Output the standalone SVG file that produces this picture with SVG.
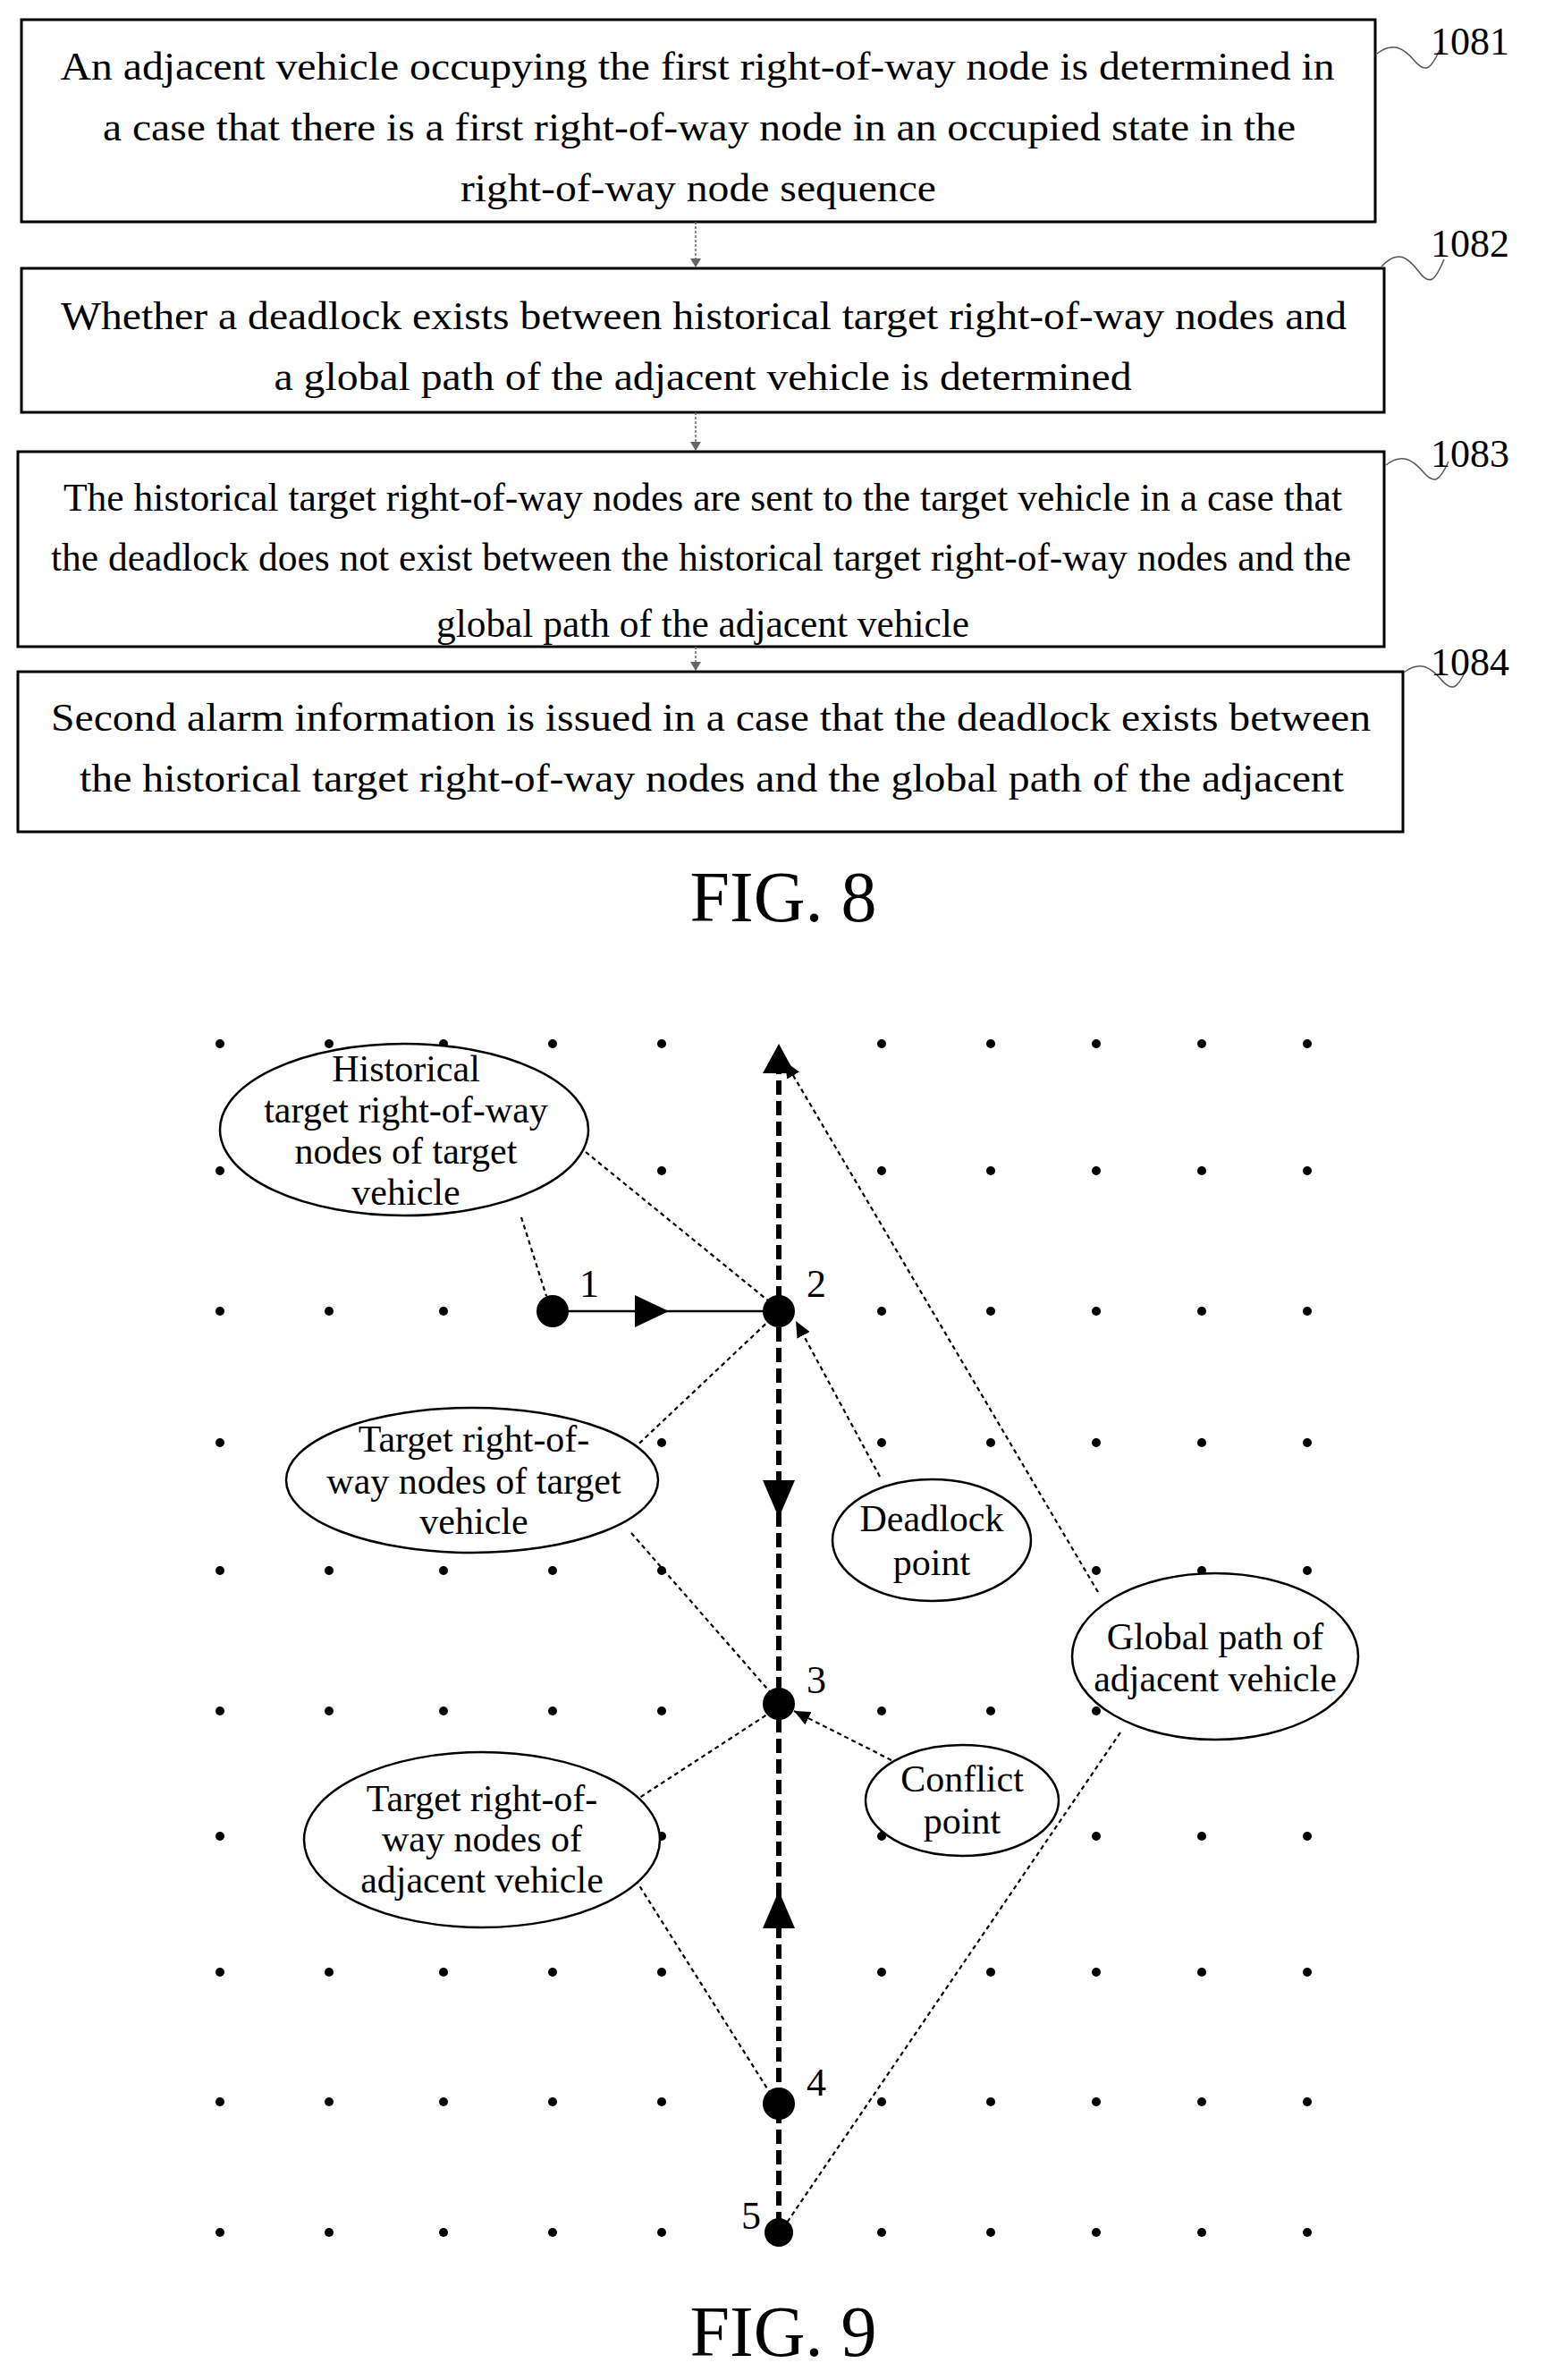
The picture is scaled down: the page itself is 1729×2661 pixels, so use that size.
<svg xmlns="http://www.w3.org/2000/svg" width="1729" height="2661" viewBox="0 0 1729 2661">
<style>
.box{fill:#fff;stroke:#000;stroke-width:3}
.bt{font-family:"Liberation Serif",serif;font-size:44px;text-anchor:middle}
.lbl{font-family:"Liberation Serif",serif;font-size:44px}
.et{font-family:"Liberation Serif",serif;font-size:42px;text-anchor:middle}
.el{fill:#fff;stroke:#000;stroke-width:2.5}
.dot{fill:#000}
.lead{fill:none;stroke:#000;stroke-width:2.2;stroke-dasharray:5 4}
.sq{fill:none;stroke:#555;stroke-width:1.5}
.fl{stroke:#666;stroke-width:1.5;stroke-dasharray:3 2}
</style>
<defs>
<marker id="ga" markerWidth="12" markerHeight="12" refX="10" refY="6" orient="auto" markerUnits="userSpaceOnUse"><path d="M0,0 L10,6 L0,12 Z" fill="#666"/></marker>
<marker id="la" markerWidth="20" markerHeight="20" refX="18" refY="10" orient="auto" markerUnits="userSpaceOnUse"><path d="M0,2 L18,10 L0,18 Z" fill="#000"/></marker>
<clipPath id="c3"><rect x="20" y="505" width="1528" height="216"/></clipPath>
</defs>

<g id="box1081">
<rect class="box" x="24" y="22" width="1514" height="226"/>
<text class="bt" x="780" y="89" textLength="1425" lengthAdjust="spacingAndGlyphs">An adjacent vehicle occupying the first right-of-way node is determined in</text>
<text class="bt" x="782" y="157" textLength="1334" lengthAdjust="spacingAndGlyphs">a case that there is a first right-of-way node in an occupied state in the</text>
<text class="bt" x="781" y="225" textLength="532" lengthAdjust="spacingAndGlyphs">right-of-way node sequence</text>
<path class="sq" d="M1540,60 c18,-14 30,-6 42,8 s18,10 28,-12"/>
<text class="lbl" x="1600" y="61">1081</text>
</g>
<g id="box1082">
<rect class="box" x="24" y="300" width="1524" height="161"/>
<text class="bt" x="787" y="368" textLength="1438" lengthAdjust="spacingAndGlyphs">Whether a deadlock exists between historical target right-of-way nodes and</text>
<text class="bt" x="786" y="436" textLength="959" lengthAdjust="spacingAndGlyphs">a global path of the adjacent vehicle is determined</text>
<path class="sq" d="M1545,298 c18,-20 30,-10 42,6 s18,10 28,-14"/>
<text class="lbl" x="1600" y="287">1082</text>
</g>
<g id="box1083">
<rect class="box" x="20" y="505" width="1528" height="218"/>
<g clip-path="url(#c3)">
<text class="bt" x="786" y="571" textLength="1430" lengthAdjust="spacingAndGlyphs">The historical target right-of-way nodes are sent to the target vehicle in a case that</text>
<text class="bt" x="784" y="638" textLength="1454" lengthAdjust="spacingAndGlyphs">the deadlock does not exist between the historical target right-of-way nodes and the</text>
<text class="bt" x="786" y="712" textLength="596" lengthAdjust="spacingAndGlyphs">global path of the adjacent vehicle</text>
</g>
<path class="sq" d="M1550,520 c18,-14 30,-6 42,8 s18,10 28,-12"/>
<text class="lbl" x="1600" y="522">1083</text>
</g>
<g id="box1084">
<rect class="box" x="20" y="751" width="1549" height="179"/>
<text class="bt" x="795" y="817" textLength="1476" lengthAdjust="spacingAndGlyphs">Second alarm information is issued in a case that the deadlock exists between</text>
<text class="bt" x="796" y="885" textLength="1414" lengthAdjust="spacingAndGlyphs">the historical target right-of-way nodes and the global path of the adjacent</text>
<path class="sq" d="M1570,752 c18,-14 30,-6 42,8 s18,10 28,-12"/>
<text class="lbl" x="1600" y="755">1084</text>
</g>
<g id="flow-connectors">
<line class="fl" x1="778" y1="248" x2="778" y2="299" marker-end="url(#ga)"/>
<line class="fl" x1="778" y1="461" x2="778" y2="504" marker-end="url(#ga)"/>
<line class="fl" x1="778" y1="723" x2="778" y2="750" marker-end="url(#ga)"/>
</g>
<text id="fig8" x="876" y="1030" font-family="Liberation Serif,serif" font-size="80" text-anchor="middle">FIG. 8</text>

<g id="grid">
<g class="dot">
<circle cx="246" cy="1167" r="5"/><circle cx="368" cy="1167" r="5"/><circle cx="496" cy="1167" r="5"/><circle cx="618" cy="1167" r="5"/><circle cx="740" cy="1167" r="5"/><circle cx="986" cy="1167" r="5"/><circle cx="1108" cy="1167" r="5"/><circle cx="1226" cy="1167" r="5"/><circle cx="1344" cy="1167" r="5"/><circle cx="1462" cy="1167" r="5"/>
<circle cx="246" cy="1309" r="5"/><circle cx="368" cy="1309" r="5"/><circle cx="496" cy="1309" r="5"/><circle cx="618" cy="1309" r="5"/><circle cx="740" cy="1309" r="5"/><circle cx="986" cy="1309" r="5"/><circle cx="1108" cy="1309" r="5"/><circle cx="1226" cy="1309" r="5"/><circle cx="1344" cy="1309" r="5"/><circle cx="1462" cy="1309" r="5"/>
<circle cx="246" cy="1466" r="5"/><circle cx="368" cy="1466" r="5"/><circle cx="496" cy="1466" r="5"/><circle cx="986" cy="1466" r="5"/><circle cx="1108" cy="1466" r="5"/><circle cx="1226" cy="1466" r="5"/><circle cx="1344" cy="1466" r="5"/><circle cx="1462" cy="1466" r="5"/>
<circle cx="246" cy="1613" r="5"/><circle cx="368" cy="1613" r="5"/><circle cx="496" cy="1613" r="5"/><circle cx="618" cy="1613" r="5"/><circle cx="740" cy="1613" r="5"/><circle cx="986" cy="1613" r="5"/><circle cx="1108" cy="1613" r="5"/><circle cx="1226" cy="1613" r="5"/><circle cx="1344" cy="1613" r="5"/><circle cx="1462" cy="1613" r="5"/>
<circle cx="246" cy="1756" r="5"/><circle cx="368" cy="1756" r="5"/><circle cx="496" cy="1756" r="5"/><circle cx="618" cy="1756" r="5"/><circle cx="740" cy="1756" r="5"/><circle cx="986" cy="1756" r="5"/><circle cx="1108" cy="1756" r="5"/><circle cx="1226" cy="1756" r="5"/><circle cx="1344" cy="1756" r="5"/><circle cx="1462" cy="1756" r="5"/>
<circle cx="246" cy="1913" r="5"/><circle cx="368" cy="1913" r="5"/><circle cx="496" cy="1913" r="5"/><circle cx="618" cy="1913" r="5"/><circle cx="740" cy="1913" r="5"/><circle cx="986" cy="1913" r="5"/><circle cx="1108" cy="1913" r="5"/><circle cx="1226" cy="1913" r="5"/><circle cx="1344" cy="1913" r="5"/><circle cx="1462" cy="1913" r="5"/>
<circle cx="246" cy="2053" r="5"/><circle cx="368" cy="2053" r="5"/><circle cx="496" cy="2053" r="5"/><circle cx="618" cy="2053" r="5"/><circle cx="740" cy="2053" r="5"/><circle cx="986" cy="2053" r="5"/><circle cx="1108" cy="2053" r="5"/><circle cx="1226" cy="2053" r="5"/><circle cx="1344" cy="2053" r="5"/><circle cx="1462" cy="2053" r="5"/>
<circle cx="246" cy="2205" r="5"/><circle cx="368" cy="2205" r="5"/><circle cx="496" cy="2205" r="5"/><circle cx="618" cy="2205" r="5"/><circle cx="740" cy="2205" r="5"/><circle cx="986" cy="2205" r="5"/><circle cx="1108" cy="2205" r="5"/><circle cx="1226" cy="2205" r="5"/><circle cx="1344" cy="2205" r="5"/><circle cx="1462" cy="2205" r="5"/>
<circle cx="246" cy="2350" r="5"/><circle cx="368" cy="2350" r="5"/><circle cx="496" cy="2350" r="5"/><circle cx="618" cy="2350" r="5"/><circle cx="740" cy="2350" r="5"/><circle cx="986" cy="2350" r="5"/><circle cx="1108" cy="2350" r="5"/><circle cx="1226" cy="2350" r="5"/><circle cx="1344" cy="2350" r="5"/><circle cx="1462" cy="2350" r="5"/>
<circle cx="246" cy="2496" r="5"/><circle cx="368" cy="2496" r="5"/><circle cx="496" cy="2496" r="5"/><circle cx="618" cy="2496" r="5"/><circle cx="740" cy="2496" r="5"/><circle cx="986" cy="2496" r="5"/><circle cx="1108" cy="2496" r="5"/><circle cx="1226" cy="2496" r="5"/><circle cx="1344" cy="2496" r="5"/><circle cx="1462" cy="2496" r="5"/>
</g>
</g>

<g id="connectors">
<line x1="871" y1="1185" x2="871" y2="2496" stroke="#000" stroke-width="6" stroke-dasharray="16 7"/>
<path d="M871,1167 L853,1200 L889,1200 Z" fill="#000"/>
<path d="M871,1697 L853,1655 L889,1655 Z" fill="#000"/>
<path d="M871,2114 L853,2156 L889,2156 Z" fill="#000"/>
<line x1="618" y1="1466" x2="871" y2="1466" stroke="#000" stroke-width="2.5"/>
<path d="M748,1466 L710,1448 L710,1484 Z" fill="#000"/>
<line class="lead" x1="655" y1="1288" x2="865" y2="1459"/>
<line class="lead" x1="583" y1="1361" x2="611" y2="1449"/>
<line class="lead" x1="702" y1="1626" x2="865" y2="1472"/>
<line class="lead" x1="706" y1="1714" x2="865" y2="1896"/>
<line class="lead" x1="984" y1="1651" x2="890" y2="1477" marker-end="url(#la)"/>
<line class="lead" x1="1005" y1="1972" x2="888" y2="1913" marker-end="url(#la)"/>
<line class="lead" x1="709" y1="2014" x2="861" y2="1915"/>
<line class="lead" x1="706" y1="2094" x2="863" y2="2343"/>
<line class="lead" x1="1228" y1="1780" x2="878" y2="1187" marker-end="url(#la)"/>
<line class="lead" x1="1253" y1="1937" x2="880" y2="2485"/>
</g>

<g id="nodes">
<circle cx="618" cy="1466" r="18"/><text class="lbl" x="648" y="1450" font-size="38">1</text>
<circle cx="871" cy="1466" r="18"/><text class="lbl" x="902" y="1450" font-size="38">2</text>
<circle cx="871" cy="1905" r="18"/><text class="lbl" x="902" y="1893" font-size="38">3</text>
<circle cx="871" cy="2352" r="18"/><text class="lbl" x="902" y="2343" font-size="38">4</text>
<circle cx="871" cy="2496" r="16"/><text class="lbl" x="829" y="2492" font-size="38">5</text>
</g>

<g id="ell-historical">
<ellipse class="el" cx="452" cy="1263" rx="206" ry="96"/>
<text class="et" x="454" y="1209">Historical</text>
<text class="et" x="454" y="1255">target right-of-way</text>
<text class="et" x="454" y="1301">nodes of target</text>
<text class="et" x="454" y="1347">vehicle</text>
</g>
<g id="ell-target-target">
<ellipse class="el" cx="528" cy="1655" rx="208" ry="81"/>
<text class="et" x="530" y="1623">Target right-of-</text>
<text class="et" x="530" y="1670">way nodes of target</text>
<text class="et" x="530" y="1715">vehicle</text>
</g>
<g id="ell-deadlock">
<ellipse class="el" cx="1042" cy="1722" rx="111" ry="68"/>
<text class="et" x="1042" y="1712">Deadlock</text>
<text class="et" x="1042" y="1761">point</text>
</g>
<g id="ell-global">
<ellipse class="el" cx="1359" cy="1852" rx="160" ry="93"/>
<text class="et" x="1359" y="1844">Global path of</text>
<text class="et" x="1359" y="1891">adjacent vehicle</text>
</g>
<g id="ell-conflict">
<ellipse class="el" cx="1076" cy="2013" rx="108" ry="62"/>
<text class="et" x="1076" y="2003">Conflict</text>
<text class="et" x="1076" y="2050">point</text>
</g>
<g id="ell-target-adjacent">
<ellipse class="el" cx="539" cy="2057" rx="199" ry="98"/>
<text class="et" x="539" y="2025">Target right-of-</text>
<text class="et" x="539" y="2070">way nodes of</text>
<text class="et" x="539" y="2116">adjacent vehicle</text>
</g>
<text id="fig9" x="876" y="2634" font-family="Liberation Serif,serif" font-size="80" text-anchor="middle">FIG. 9</text>
</svg>
